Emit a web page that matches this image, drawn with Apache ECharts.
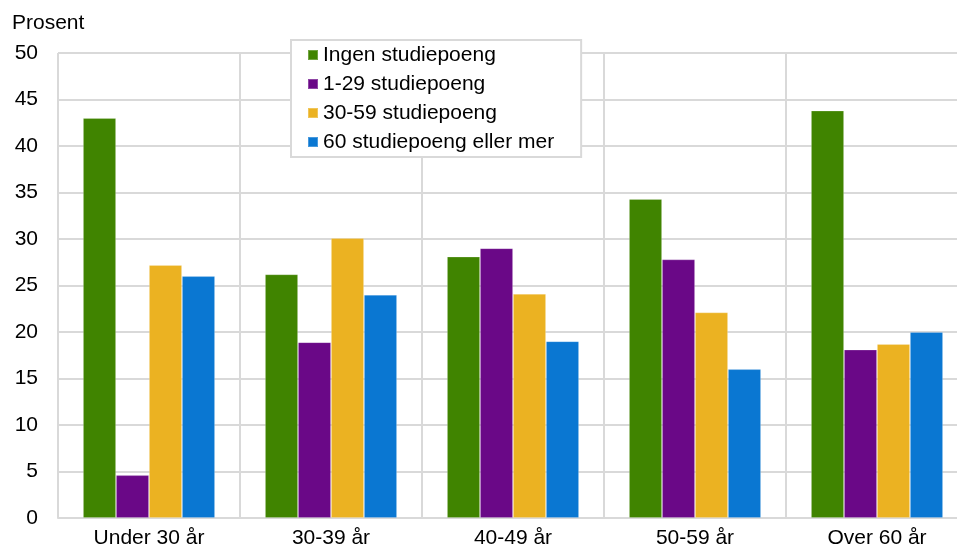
<!DOCTYPE html>
<html>
<head>
<meta charset="utf-8">
<script src="https://cdn.jsdelivr.net/npm/echarts@6/dist/echarts.min.js"></script>
<style>html,body{margin:0;padding:0;background:#fff;overflow:hidden;width:957px;height:544px}#c{width:968px;height:544px}</style>
</head>
<body>
<div id="c"></div>
<script>
const categories = ['Under 30 år', '30-39 år', '40-49 år', '50-59 år', 'Over 60 år'];
const seriesNames = ['Ingen studiepoeng', '1-29 studiepoeng', '30-59 studiepoeng', '60 studiepoeng eller mer'];
const ingen = [43.0, 26.2, 28.1, 34.3, 43.8];
const s1_29 = [4.6, 18.9, 29.0, 27.8, 18.1];
const s30_59 = [27.2, 30.1, 24.1, 22.1, 18.7];
const s60 = [26.0, 24.0, 19.0, 16.0, 20.0];
const yTicks = [0, 5, 10, 15, 20, 25, 30, 35, 40, 45, 50];
const colors = ['#408400', '#6a0887', '#ebb222', '#0a77d2'];

const font = 'Arial, "Liberation Sans", sans-serif';
const chart = echarts.init(document.getElementById('c'), null, {renderer: 'canvas'});
const data = [ingen, s1_29, s30_59, s60];
chart.setOption({
  animation: false,
  color: colors,
  textStyle: {fontFamily: font},
  title: {
    text: 'Prosent', left: 12, top: 13, padding: 0,
    textStyle: {fontSize: 21, fontWeight: 'normal', color: '#000', fontFamily: font}
  },
  legend: {
    orient: 'vertical', left: 291, top: 40,
    data: seriesNames,
    itemWidth: 10, itemHeight: 10, itemGap: 5,
    padding: [3, 27, 3, 16],
    backgroundColor: '#fff', borderColor: '#d9d9d9', borderWidth: 2,
    icon: 'rect',
    textStyle: {fontSize: 21, color: '#000', lineHeight: 24, fontFamily: font}
  },
  grid: {left: 58, right: 0, top: 53, bottom: 26, containLabel: false, outerBoundsMode: 'none'},
  xAxis: {
    type: 'category', data: categories,
    axisLine: {show: true, lineStyle: {color: '#d9d9d9', width: 2}},
    axisTick: {show: false},
    axisLabel: {fontSize: 21, color: '#000', margin: 10, fontFamily: font},
    splitLine: {show: true, interval: 0, lineStyle: {color: '#d9d9d9', width: 2}}
  },
  yAxis: {
    type: 'value', min: yTicks[0], max: yTicks[yTicks.length - 1], interval: 5,
    axisLine: {show: false}, axisTick: {show: false},
    axisLabel: {fontSize: 21, color: '#000', margin: 20, fontFamily: font},
    splitLine: {show: true, lineStyle: {color: '#d9d9d9', width: 2}}
  },
  series: seriesNames.map((n, i) => ({
    name: n, type: 'bar', data: data[i],
    barGap: '0%', barCategoryGap: '27.5%',
    itemStyle: {color: colors[i], borderColor: 'rgba(255,255,255,0.25)', borderWidth: 0.8}
  }))
});
</script>
</body>
</html>
